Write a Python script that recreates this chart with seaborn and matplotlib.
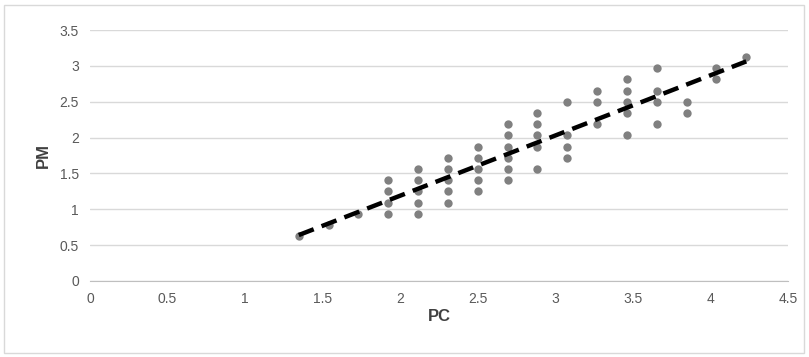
import numpy as np
import pandas as pd
import matplotlib
matplotlib.use("Agg")
import matplotlib.pyplot as plt
import seaborn as sns

# PC columns (step 2.5/13) and the PM values observed in each column (step 0.15625)
pc_levels = [1.346, 1.538, 1.731, 1.923, 2.115, 2.308, 2.5, 2.692,
             2.885, 3.077, 3.269, 3.462, 3.654, 3.846, 4.038, 4.231]
pm_by_level = [
    [0.625],
    [0.781],
    [0.938],
    [0.938, 1.094, 1.25, 1.406],
    [0.938, 1.094, 1.25, 1.406, 1.563],
    [1.094, 1.25, 1.406, 1.563, 1.719],
    [1.25, 1.406, 1.563, 1.719, 1.875],
    [1.406, 1.563, 1.719, 1.875, 2.031, 2.188],
    [1.563, 1.875, 2.031, 2.188, 2.344],
    [1.719, 1.875, 2.031, 2.5],
    [2.188, 2.5, 2.656],
    [2.031, 2.344, 2.5, 2.656, 2.813],
    [2.188, 2.5, 2.656, 2.969],
    [2.344, 2.5],
    [2.813, 2.969],
    [3.125],
]

pc = [x for x, ys in zip(pc_levels, pm_by_level) for _ in ys]
pm = [y for ys in pm_by_level for y in ys]
df = pd.DataFrame({"PC": pc, "PM": pm})

sns.set_style("white")
plt.rcParams["font.family"] = ["Liberation Sans Narrow", "Liberation Sans", "DejaVu Sans"]

fig = plt.figure(figsize=(8.09, 3.57), dpi=100)
ax = fig.add_axes([90 / 809, 1 - 281 / 357, 698 / 809, 251 / 357])

sns.regplot(data=df, x="PC", y="PM", ax=ax, ci=None,
            scatter_kws={"color": "#808080", "s": 36, "linewidths": 0, "alpha": 1},
            line_kws={"color": "black", "lw": 3.2, "ls": (0, (3.6, 1.9)), "dash_capstyle": "butt"})

ax.set_xlim(0, 4.5)
ax.set_ylim(0, 3.5)
ax.set_xticks(np.arange(0, 4.51, 0.5))
ax.set_yticks(np.arange(0, 3.51, 0.5))
ax.set_xticklabels(["0", "0.5", "1", "1.5", "2", "2.5", "3", "3.5", "4", "4.5"])
ax.set_yticklabels(["0", "0.5", "1", "1.5", "2", "2.5", "3", "3.5"])
ax.yaxis.grid(True, color="#d9d9d9", lw=1)
ax.xaxis.grid(False)
ax.set_axisbelow(True)
for side in ["top", "right", "left"]:
    ax.spines[side].set_visible(False)
ax.spines["bottom"].set_color("#bfbfbf")
ax.tick_params(axis="both", length=0, labelsize=10, labelcolor="#595959", pad=8)

ax.set_xlabel("PC", fontsize=12, fontweight="bold", color="#404040",
              family=["Liberation Sans", "DejaVu Sans"], labelpad=2)
ax.set_ylabel("PM", fontsize=12, fontweight="bold", color="#404040",
              family=["Liberation Sans", "DejaVu Sans"], labelpad=6)

fig.patches.append(plt.Rectangle((4 / 809, 0.01), 800 / 809, 0.975, transform=fig.transFigure,
                                 fill=False, edgecolor="#d9d9d9", lw=1))

fig.savefig("out.png", dpi=100)
